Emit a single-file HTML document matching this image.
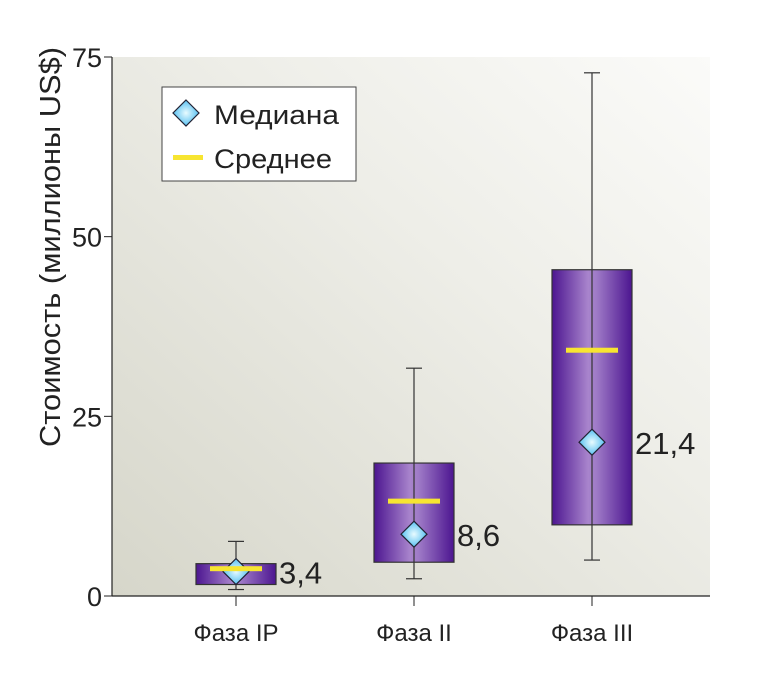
<!DOCTYPE html>
<html><head><meta charset="utf-8"><style>
body{margin:0;background:#fff;}
svg text{font-family:"Liberation Sans","DejaVu Sans",sans-serif;fill:#222;}
</style></head><body>
<svg id="c" width="762" height="672">
<defs>
<linearGradient id="bg" x1="0" y1="1" x2="1" y2="0">
<stop offset="0" stop-color="#d6d6ca"/><stop offset="0.6" stop-color="#eeeee8"/><stop offset="1" stop-color="#fbfbf9"/>
</linearGradient>
<linearGradient id="box" x1="0" y1="0" x2="1" y2="0">
<stop offset="0" stop-color="#4c1590"/><stop offset="0.45" stop-color="#a884cc"/><stop offset="0.55" stop-color="#a07cc8"/><stop offset="1" stop-color="#4c1590"/>
</linearGradient>
<radialGradient id="dia" cx="0.5" cy="0.5" r="0.6">
<stop offset="0" stop-color="#e8fbff"/><stop offset="1" stop-color="#3ab4ee"/>
</radialGradient>
</defs>
<rect x="112" y="57" width="598" height="539" fill="url(#bg)"/>
<g id="g"></g>
<line x1="112" y1="57" x2="112" y2="596" stroke="#222" stroke-width="1.2"/>
<line x1="112" y1="596" x2="710" y2="596" stroke="#222" stroke-width="1.2"/>
<text transform="translate(60,247) rotate(-90)" text-anchor="middle" font-size="29" textLength="400" lengthAdjust="spacingAndGlyphs">Стоимость (миллионы US$)</text>
<g>
<rect x="162" y="87" width="194" height="94" fill="#fff" stroke="#444" stroke-width="1"/>
<path d="M186 100 L199 113 L186 126 L173 113 Z" fill="url(#dia)" stroke="#223" stroke-width="1.2"/>
<text x="214" y="124" font-size="27" textLength="125" lengthAdjust="spacingAndGlyphs">Медиана</text>
<rect x="173" y="155" width="30" height="5" fill="#f7e531"/>
<text x="214" y="168" font-size="27" textLength="118" lengthAdjust="spacingAndGlyphs">Среднее</text>
</g>
</svg>
<script>
const categories=["Фаза IP","Фаза II","Фаза III"];
const q1=[1.6,4.7,9.9];
const q3=[4.5,18.5,45.4];
const wlo=[0.9,2.4,5.0];
const whi=[7.6,31.7,72.8];
const means=[3.8,13.2,34.2];
const medians=[3.4,8.6,21.4];
const medianLabels=["3,4","8,6","21,4"];
const yTicks=[0,25,50,75];
const NS="http://www.w3.org/2000/svg";
const g=document.getElementById('g');
const y=v=>596-v*539/75;
const x=i=>236+i*178;
function mk(t,a){const e=document.createElementNS(NS,t);for(const k in a)e.setAttribute(k,a[k]);g.appendChild(e);return e;}
yTicks.forEach(v=>{
 const l=mk('line',{x1:104,x2:112,y1:y(v),y2:y(v),stroke:'#222'});
 
 
 const t=mk('text',{x:102,y:y(v)+10,'text-anchor':'end','font-size':27});t.textContent=v;
 
 
});
categories.forEach((c,i)=>{
 const cx=x(i);
 const tk=mk('line',{x1:cx,x2:cx,y1:596,y2:606,stroke:'#222'});
 
 
 const t=mk('text',{x:cx,y:641,'text-anchor':'middle','font-size':24});t.textContent=c;
 
 
 const b=mk('rect',{x:cx-40,y:y(q3[i]),width:80,height:y(q1[i])-y(q3[i]),fill:'url(#box)',stroke:'#333','stroke-width':1.2});
 
 
 const w=mk('line',{x1:cx,x2:cx,y1:y(whi[i]),y2:y(wlo[i]),stroke:'#333','stroke-width':1.2});
 
 
 [whi[i],wlo[i]].forEach(v=>{const cp=mk('line',{x1:cx-8,x2:cx+8,y1:y(v),y2:y(v),stroke:'#333','stroke-width':1.2});
 
 });
 const my=y(medians[i]);
 const d=mk('path',{d:`M${cx} ${my-13} L${cx+13} ${my} L${cx} ${my+13} L${cx-13} ${my} Z`,fill:'url(#dia)',stroke:'#223','stroke-width':1.2});
 
 
 const m=mk('rect',{x:cx-26,y:y(means[i])-2.5,width:52,height:5,fill:'#f7e531'});
 
 
 const lt=mk('text',{x:cx+43,y:my+12,'font-size':31});lt.textContent=medianLabels[i];
 
 
});
</script>
</body></html>
